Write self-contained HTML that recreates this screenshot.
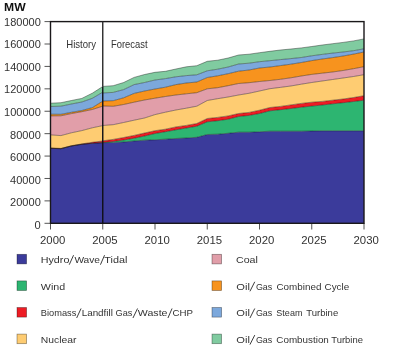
<!DOCTYPE html>
<html><head><meta charset="utf-8"><style>
html,body{margin:0;padding:0;background:#fff;width:400px;height:352px;overflow:hidden}
svg{display:block;will-change:transform}
text{font-family:"Liberation Sans",sans-serif;fill:#333}
.ax{font-size:10.5px}
.lg{font-size:9.8px}
.t{font-size:10.2px}
.mw{font-size:11px;font-weight:bold;fill:#111}
</style></head><body>
<svg width="400" height="352" viewBox="0 0 400 352">
<text x="4.0" y="10.9" class="mw" textLength="21.6" lengthAdjust="spacingAndGlyphs">MW</text>
<path d="M50.50,148.30 L60.95,148.70 L71.40,146.00 L81.85,144.30 L92.30,143.30 L102.75,142.80 L102.75,223.30 L92.30,223.30 L81.85,223.30 L71.40,223.30 L60.95,223.30 L50.50,223.30 Z" fill="#3b3b9b"/>
<path d="M50.50,148.30 L60.95,148.70 L71.40,146.00 L81.85,144.30 L92.30,143.20 L102.75,142.50 L102.75,142.80 L92.30,143.30 L81.85,144.30 L71.40,146.00 L60.95,148.70 L50.50,148.30 Z" fill="#2db571"/>
<path d="M50.50,148.00 L60.95,148.40 L71.40,145.70 L81.85,143.90 L92.30,142.30 L102.75,141.00 L102.75,142.50 L92.30,143.20 L81.85,144.30 L71.40,146.00 L60.95,148.70 L50.50,148.30 Z" fill="#ed1c24"/>
<path d="M50.50,134.90 L60.95,135.60 L71.40,132.80 L81.85,130.60 L92.30,127.80 L102.75,125.60 L102.75,141.00 L92.30,142.30 L81.85,143.90 L71.40,145.70 L60.95,148.40 L50.50,148.00 Z" fill="#fecc72"/>
<path d="M50.50,115.90 L60.95,115.80 L71.40,113.60 L81.85,111.70 L92.30,109.50 L102.75,106.20 L102.75,125.60 L92.30,127.80 L81.85,130.60 L71.40,132.80 L60.95,135.60 L50.50,134.90 Z" fill="#e19ea9"/>
<path d="M50.50,114.20 L60.95,114.30 L71.40,112.30 L81.85,110.50 L92.30,107.60 L102.75,101.10 L102.75,106.20 L92.30,109.50 L81.85,111.70 L71.40,113.60 L60.95,115.80 L50.50,115.90 Z" fill="#f7931e"/>
<path d="M50.50,106.50 L60.95,106.20 L71.40,104.00 L81.85,102.00 L92.30,98.30 L102.75,92.20 L102.75,101.10 L92.30,107.60 L81.85,110.50 L71.40,112.30 L60.95,114.30 L50.50,114.20 Z" fill="#7ca8dc"/>
<path d="M50.50,103.20 L60.95,102.70 L71.40,100.50 L81.85,98.40 L92.30,93.20 L102.75,86.50 L102.75,92.20 L92.30,98.30 L81.85,102.00 L71.40,104.00 L60.95,106.20 L50.50,106.50 Z" fill="#80cba0"/>
<path d="M50.50,148.30 L60.95,148.70 L71.40,146.00 L81.85,144.30 L92.30,143.30 L102.75,142.80" fill="none" stroke="#000" stroke-opacity="0.55" stroke-width="0.7"/>
<path d="M50.50,148.30 L60.95,148.70 L71.40,146.00 L81.85,144.30 L92.30,143.20 L102.75,142.50" fill="none" stroke="#000" stroke-opacity="0.55" stroke-width="0.7"/>
<path d="M50.50,148.00 L60.95,148.40 L71.40,145.70 L81.85,143.90 L92.30,142.30 L102.75,141.00" fill="none" stroke="#000" stroke-opacity="0.55" stroke-width="0.7"/>
<path d="M50.50,134.90 L60.95,135.60 L71.40,132.80 L81.85,130.60 L92.30,127.80 L102.75,125.60" fill="none" stroke="#000" stroke-opacity="0.55" stroke-width="0.7"/>
<path d="M50.50,115.90 L60.95,115.80 L71.40,113.60 L81.85,111.70 L92.30,109.50 L102.75,106.20" fill="none" stroke="#000" stroke-opacity="0.55" stroke-width="0.7"/>
<path d="M50.50,114.20 L60.95,114.30 L71.40,112.30 L81.85,110.50 L92.30,107.60 L102.75,101.10" fill="none" stroke="#000" stroke-opacity="0.55" stroke-width="0.7"/>
<path d="M50.50,106.50 L60.95,106.20 L71.40,104.00 L81.85,102.00 L92.30,98.30 L102.75,92.20" fill="none" stroke="#000" stroke-opacity="0.55" stroke-width="0.7"/>
<path d="M50.50,103.20 L60.95,102.70 L71.40,100.50 L81.85,98.40 L92.30,93.20 L102.75,86.50" fill="none" stroke="#000" stroke-opacity="0.55" stroke-width="0.7"/>
<path d="M102.75,142.70 L113.20,142.40 L123.65,142.00 L134.10,141.00 L144.55,140.20 L155.00,139.80 L165.45,139.20 L175.90,138.50 L186.35,138.00 L196.80,137.30 L207.25,134.50 L217.70,134.20 L228.15,133.30 L238.60,132.20 L249.05,132.20 L259.50,131.80 L269.95,131.20 L280.40,131.20 L290.85,131.20 L301.30,131.20 L311.75,131.00 L322.20,130.80 L332.65,130.80 L343.10,130.80 L353.55,130.80 L364.00,130.80 L364.00,223.30 L353.55,223.30 L343.10,223.30 L332.65,223.30 L322.20,223.30 L311.75,223.30 L301.30,223.30 L290.85,223.30 L280.40,223.30 L269.95,223.30 L259.50,223.30 L249.05,223.30 L238.60,223.30 L228.15,223.30 L217.70,223.30 L207.25,223.30 L196.80,223.30 L186.35,223.30 L175.90,223.30 L165.45,223.30 L155.00,223.30 L144.55,223.30 L134.10,223.30 L123.65,223.30 L113.20,223.30 L102.75,223.30 Z" fill="#3b3b9b"/>
<path d="M102.75,142.40 L113.20,141.50 L123.65,140.00 L134.10,138.20 L144.55,136.00 L155.00,133.50 L165.45,131.70 L175.90,129.80 L186.35,128.00 L196.80,126.20 L207.25,121.80 L217.70,120.70 L228.15,119.20 L238.60,116.50 L249.05,115.40 L259.50,113.50 L269.95,110.80 L280.40,109.70 L290.85,108.50 L301.30,107.20 L311.75,106.10 L322.20,105.00 L332.65,103.80 L343.10,102.70 L353.55,101.50 L364.00,100.20 L364.00,130.80 L353.55,130.80 L343.10,130.80 L332.65,130.80 L322.20,130.80 L311.75,131.00 L301.30,131.20 L290.85,131.20 L280.40,131.20 L269.95,131.20 L259.50,131.80 L249.05,132.20 L238.60,132.20 L228.15,133.30 L217.70,134.20 L207.25,134.50 L196.80,137.30 L186.35,138.00 L175.90,138.50 L165.45,139.20 L155.00,139.80 L144.55,140.20 L134.10,141.00 L123.65,142.00 L113.20,142.40 L102.75,142.70 Z" fill="#2db571"/>
<path d="M102.75,140.80 L113.20,139.40 L123.65,137.50 L134.10,135.40 L144.55,133.00 L155.00,130.70 L165.45,129.20 L175.90,126.90 L186.35,125.40 L196.80,123.50 L207.25,118.50 L217.70,117.40 L228.15,115.90 L238.60,113.50 L249.05,112.40 L259.50,110.20 L269.95,107.50 L280.40,106.40 L290.85,104.90 L301.30,103.40 L311.75,102.20 L322.20,101.40 L332.65,100.20 L343.10,99.00 L353.55,97.50 L364.00,95.70 L364.00,100.20 L353.55,101.50 L343.10,102.70 L332.65,103.80 L322.20,105.00 L311.75,106.10 L301.30,107.20 L290.85,108.50 L280.40,109.70 L269.95,110.80 L259.50,113.50 L249.05,115.40 L238.60,116.50 L228.15,119.20 L217.70,120.70 L207.25,121.80 L196.80,126.20 L186.35,128.00 L175.90,129.80 L165.45,131.70 L155.00,133.50 L144.55,136.00 L134.10,138.20 L123.65,140.00 L113.20,141.50 L102.75,142.40 Z" fill="#ed1c24"/>
<path d="M102.75,125.50 L113.20,124.70 L123.65,122.50 L134.10,120.20 L144.55,118.00 L155.00,114.60 L165.45,112.20 L175.90,110.00 L186.35,108.20 L196.80,106.20 L207.25,100.50 L217.70,98.70 L228.15,97.00 L238.60,95.00 L249.05,93.30 L259.50,91.00 L269.95,88.70 L280.40,87.40 L290.85,86.00 L301.30,84.20 L311.75,82.50 L322.20,81.00 L332.65,79.50 L343.10,78.00 L353.55,76.50 L364.00,74.70 L364.00,95.70 L353.55,97.50 L343.10,99.00 L332.65,100.20 L322.20,101.40 L311.75,102.20 L301.30,103.40 L290.85,104.90 L280.40,106.40 L269.95,107.50 L259.50,110.20 L249.05,112.40 L238.60,113.50 L228.15,115.90 L217.70,117.40 L207.25,118.50 L196.80,123.50 L186.35,125.40 L175.90,126.90 L165.45,129.20 L155.00,130.70 L144.55,133.00 L134.10,135.40 L123.65,137.50 L113.20,139.40 L102.75,140.80 Z" fill="#fecc72"/>
<path d="M102.75,106.00 L113.20,106.30 L123.65,104.50 L134.10,102.20 L144.55,100.00 L155.00,98.20 L165.45,96.50 L175.90,95.00 L186.35,93.80 L196.80,92.70 L207.25,88.80 L217.70,87.70 L228.15,85.70 L238.60,83.50 L249.05,82.70 L259.50,81.50 L269.95,80.50 L280.40,79.30 L290.85,77.80 L301.30,76.00 L311.75,74.40 L322.20,73.20 L332.65,72.00 L343.10,70.50 L353.55,68.70 L364.00,66.70 L364.00,74.70 L353.55,76.50 L343.10,78.00 L332.65,79.50 L322.20,81.00 L311.75,82.50 L301.30,84.20 L290.85,86.00 L280.40,87.40 L269.95,88.70 L259.50,91.00 L249.05,93.30 L238.60,95.00 L228.15,97.00 L217.70,98.70 L207.25,100.50 L196.80,106.20 L186.35,108.20 L175.90,110.00 L165.45,112.20 L155.00,114.60 L144.55,118.00 L134.10,120.20 L123.65,122.50 L113.20,124.70 L102.75,125.50 Z" fill="#e19ea9"/>
<path d="M102.75,101.00 L113.20,100.70 L123.65,97.80 L134.10,93.40 L144.55,91.00 L155.00,89.00 L165.45,87.20 L175.90,84.60 L186.35,83.00 L196.80,82.00 L207.25,77.50 L217.70,75.80 L228.15,73.70 L238.60,71.20 L249.05,70.00 L259.50,68.00 L269.95,67.00 L280.40,65.60 L290.85,64.20 L301.30,62.50 L311.75,60.60 L322.20,59.00 L332.65,57.60 L343.10,56.00 L353.55,54.10 L364.00,52.00 L364.00,66.70 L353.55,68.70 L343.10,70.50 L332.65,72.00 L322.20,73.20 L311.75,74.40 L301.30,76.00 L290.85,77.80 L280.40,79.30 L269.95,80.50 L259.50,81.50 L249.05,82.70 L238.60,83.50 L228.15,85.70 L217.70,87.70 L207.25,88.80 L196.80,92.70 L186.35,93.80 L175.90,95.00 L165.45,96.50 L155.00,98.20 L144.55,100.00 L134.10,102.20 L123.65,104.50 L113.20,106.30 L102.75,106.00 Z" fill="#f7931e"/>
<path d="M102.75,93.00 L113.20,92.40 L123.65,89.60 L134.10,84.60 L144.55,82.50 L155.00,80.00 L165.45,78.60 L175.90,76.80 L186.35,75.60 L196.80,74.80 L207.25,70.80 L217.70,69.20 L228.15,67.00 L238.60,64.00 L249.05,63.20 L259.50,61.70 L269.95,60.70 L280.40,59.60 L290.85,58.60 L301.30,57.50 L311.75,55.80 L322.20,54.40 L332.65,53.10 L343.10,52.00 L353.55,50.70 L364.00,48.80 L364.00,52.00 L353.55,54.10 L343.10,56.00 L332.65,57.60 L322.20,59.00 L311.75,60.60 L301.30,62.50 L290.85,64.20 L280.40,65.60 L269.95,67.00 L259.50,68.00 L249.05,70.00 L238.60,71.20 L228.15,73.70 L217.70,75.80 L207.25,77.50 L196.80,82.00 L186.35,83.00 L175.90,84.60 L165.45,87.20 L155.00,89.00 L144.55,91.00 L134.10,93.40 L123.65,97.80 L113.20,100.70 L102.75,101.00 Z" fill="#7ca8dc"/>
<path d="M102.75,86.40 L113.20,85.70 L123.65,82.50 L134.10,77.40 L144.55,74.50 L155.00,72.30 L165.45,71.30 L175.90,69.00 L186.35,66.80 L196.80,65.70 L207.25,61.30 L217.70,60.20 L228.15,58.00 L238.60,55.00 L249.05,54.20 L259.50,52.70 L269.95,51.30 L280.40,50.00 L290.85,49.00 L301.30,47.90 L311.75,46.50 L322.20,45.00 L332.65,43.70 L343.10,42.40 L353.55,40.90 L364.00,38.90 L364.00,48.80 L353.55,50.70 L343.10,52.00 L332.65,53.10 L322.20,54.40 L311.75,55.80 L301.30,57.50 L290.85,58.60 L280.40,59.60 L269.95,60.70 L259.50,61.70 L249.05,63.20 L238.60,64.00 L228.15,67.00 L217.70,69.20 L207.25,70.80 L196.80,74.80 L186.35,75.60 L175.90,76.80 L165.45,78.60 L155.00,80.00 L144.55,82.50 L134.10,84.60 L123.65,89.60 L113.20,92.40 L102.75,93.00 Z" fill="#80cba0"/>
<path d="M102.75,142.70 L113.20,142.40 L123.65,142.00 L134.10,141.00 L144.55,140.20 L155.00,139.80 L165.45,139.20 L175.90,138.50 L186.35,138.00 L196.80,137.30 L207.25,134.50 L217.70,134.20 L228.15,133.30 L238.60,132.20 L249.05,132.20 L259.50,131.80 L269.95,131.20 L280.40,131.20 L290.85,131.20 L301.30,131.20 L311.75,131.00 L322.20,130.80 L332.65,130.80 L343.10,130.80 L353.55,130.80 L364.00,130.80" fill="none" stroke="#000" stroke-opacity="0.55" stroke-width="0.7"/>
<path d="M102.75,142.40 L113.20,141.50 L123.65,140.00 L134.10,138.20 L144.55,136.00 L155.00,133.50 L165.45,131.70 L175.90,129.80 L186.35,128.00 L196.80,126.20 L207.25,121.80 L217.70,120.70 L228.15,119.20 L238.60,116.50 L249.05,115.40 L259.50,113.50 L269.95,110.80 L280.40,109.70 L290.85,108.50 L301.30,107.20 L311.75,106.10 L322.20,105.00 L332.65,103.80 L343.10,102.70 L353.55,101.50 L364.00,100.20" fill="none" stroke="#000" stroke-opacity="0.55" stroke-width="0.7"/>
<path d="M102.75,140.80 L113.20,139.40 L123.65,137.50 L134.10,135.40 L144.55,133.00 L155.00,130.70 L165.45,129.20 L175.90,126.90 L186.35,125.40 L196.80,123.50 L207.25,118.50 L217.70,117.40 L228.15,115.90 L238.60,113.50 L249.05,112.40 L259.50,110.20 L269.95,107.50 L280.40,106.40 L290.85,104.90 L301.30,103.40 L311.75,102.20 L322.20,101.40 L332.65,100.20 L343.10,99.00 L353.55,97.50 L364.00,95.70" fill="none" stroke="#000" stroke-opacity="0.55" stroke-width="0.7"/>
<path d="M102.75,125.50 L113.20,124.70 L123.65,122.50 L134.10,120.20 L144.55,118.00 L155.00,114.60 L165.45,112.20 L175.90,110.00 L186.35,108.20 L196.80,106.20 L207.25,100.50 L217.70,98.70 L228.15,97.00 L238.60,95.00 L249.05,93.30 L259.50,91.00 L269.95,88.70 L280.40,87.40 L290.85,86.00 L301.30,84.20 L311.75,82.50 L322.20,81.00 L332.65,79.50 L343.10,78.00 L353.55,76.50 L364.00,74.70" fill="none" stroke="#000" stroke-opacity="0.55" stroke-width="0.7"/>
<path d="M102.75,106.00 L113.20,106.30 L123.65,104.50 L134.10,102.20 L144.55,100.00 L155.00,98.20 L165.45,96.50 L175.90,95.00 L186.35,93.80 L196.80,92.70 L207.25,88.80 L217.70,87.70 L228.15,85.70 L238.60,83.50 L249.05,82.70 L259.50,81.50 L269.95,80.50 L280.40,79.30 L290.85,77.80 L301.30,76.00 L311.75,74.40 L322.20,73.20 L332.65,72.00 L343.10,70.50 L353.55,68.70 L364.00,66.70" fill="none" stroke="#000" stroke-opacity="0.55" stroke-width="0.7"/>
<path d="M102.75,101.00 L113.20,100.70 L123.65,97.80 L134.10,93.40 L144.55,91.00 L155.00,89.00 L165.45,87.20 L175.90,84.60 L186.35,83.00 L196.80,82.00 L207.25,77.50 L217.70,75.80 L228.15,73.70 L238.60,71.20 L249.05,70.00 L259.50,68.00 L269.95,67.00 L280.40,65.60 L290.85,64.20 L301.30,62.50 L311.75,60.60 L322.20,59.00 L332.65,57.60 L343.10,56.00 L353.55,54.10 L364.00,52.00" fill="none" stroke="#000" stroke-opacity="0.55" stroke-width="0.7"/>
<path d="M102.75,93.00 L113.20,92.40 L123.65,89.60 L134.10,84.60 L144.55,82.50 L155.00,80.00 L165.45,78.60 L175.90,76.80 L186.35,75.60 L196.80,74.80 L207.25,70.80 L217.70,69.20 L228.15,67.00 L238.60,64.00 L249.05,63.20 L259.50,61.70 L269.95,60.70 L280.40,59.60 L290.85,58.60 L301.30,57.50 L311.75,55.80 L322.20,54.40 L332.65,53.10 L343.10,52.00 L353.55,50.70 L364.00,48.80" fill="none" stroke="#000" stroke-opacity="0.55" stroke-width="0.7"/>
<path d="M102.75,86.40 L113.20,85.70 L123.65,82.50 L134.10,77.40 L144.55,74.50 L155.00,72.30 L165.45,71.30 L175.90,69.00 L186.35,66.80 L196.80,65.70 L207.25,61.30 L217.70,60.20 L228.15,58.00 L238.60,55.00 L249.05,54.20 L259.50,52.70 L269.95,51.30 L280.40,50.00 L290.85,49.00 L301.30,47.90 L311.75,46.50 L322.20,45.00 L332.65,43.70 L343.10,42.40 L353.55,40.90 L364.00,38.90" fill="none" stroke="#000" stroke-opacity="0.55" stroke-width="0.7"/>
<line x1="44.5" y1="223.30" x2="50.5" y2="223.30" stroke="#555" stroke-width="1"/>
<text x="40.8" y="228.60" text-anchor="end" class="ax" textLength="6.20" lengthAdjust="spacingAndGlyphs">0</text>
<line x1="44.5" y1="200.89" x2="50.5" y2="200.89" stroke="#555" stroke-width="1"/>
<text x="40.8" y="206.08" text-anchor="end" class="ax" textLength="30.70" lengthAdjust="spacingAndGlyphs">20000</text>
<line x1="44.5" y1="178.48" x2="50.5" y2="178.48" stroke="#555" stroke-width="1"/>
<text x="40.8" y="183.56" text-anchor="end" class="ax" textLength="30.70" lengthAdjust="spacingAndGlyphs">40000</text>
<line x1="44.5" y1="156.07" x2="50.5" y2="156.07" stroke="#555" stroke-width="1"/>
<text x="40.8" y="161.03" text-anchor="end" class="ax" textLength="30.70" lengthAdjust="spacingAndGlyphs">60000</text>
<line x1="44.5" y1="133.66" x2="50.5" y2="133.66" stroke="#555" stroke-width="1"/>
<text x="40.8" y="138.51" text-anchor="end" class="ax" textLength="30.70" lengthAdjust="spacingAndGlyphs">80000</text>
<line x1="44.5" y1="111.24" x2="50.5" y2="111.24" stroke="#555" stroke-width="1"/>
<text x="40.8" y="115.99" text-anchor="end" class="ax" textLength="36.80" lengthAdjust="spacingAndGlyphs">100000</text>
<line x1="44.5" y1="88.83" x2="50.5" y2="88.83" stroke="#555" stroke-width="1"/>
<text x="40.8" y="93.47" text-anchor="end" class="ax" textLength="36.80" lengthAdjust="spacingAndGlyphs">120000</text>
<line x1="44.5" y1="66.42" x2="50.5" y2="66.42" stroke="#555" stroke-width="1"/>
<text x="40.8" y="70.94" text-anchor="end" class="ax" textLength="36.80" lengthAdjust="spacingAndGlyphs">140000</text>
<line x1="44.5" y1="44.01" x2="50.5" y2="44.01" stroke="#555" stroke-width="1"/>
<text x="40.8" y="48.42" text-anchor="end" class="ax" textLength="36.80" lengthAdjust="spacingAndGlyphs">160000</text>
<line x1="44.5" y1="21.60" x2="50.5" y2="21.60" stroke="#555" stroke-width="1"/>
<text x="40.8" y="25.90" text-anchor="end" class="ax" textLength="36.80" lengthAdjust="spacingAndGlyphs">180000</text>
<line x1="50.50" y1="223.30" x2="50.50" y2="229.5" stroke="#555" stroke-width="1"/>
<text x="52.70" y="243.6" text-anchor="middle" class="ax" textLength="25.3" lengthAdjust="spacingAndGlyphs">2000</text>
<line x1="102.75" y1="223.30" x2="102.75" y2="229.5" stroke="#555" stroke-width="1"/>
<text x="104.95" y="243.6" text-anchor="middle" class="ax" textLength="25.3" lengthAdjust="spacingAndGlyphs">2005</text>
<line x1="155.00" y1="223.30" x2="155.00" y2="229.5" stroke="#555" stroke-width="1"/>
<text x="157.20" y="243.6" text-anchor="middle" class="ax" textLength="25.3" lengthAdjust="spacingAndGlyphs">2010</text>
<line x1="207.25" y1="223.30" x2="207.25" y2="229.5" stroke="#555" stroke-width="1"/>
<text x="209.45" y="243.6" text-anchor="middle" class="ax" textLength="25.3" lengthAdjust="spacingAndGlyphs">2015</text>
<line x1="259.50" y1="223.30" x2="259.50" y2="229.5" stroke="#555" stroke-width="1"/>
<text x="261.70" y="243.6" text-anchor="middle" class="ax" textLength="25.3" lengthAdjust="spacingAndGlyphs">2020</text>
<line x1="311.75" y1="223.30" x2="311.75" y2="229.5" stroke="#555" stroke-width="1"/>
<text x="313.95" y="243.6" text-anchor="middle" class="ax" textLength="25.3" lengthAdjust="spacingAndGlyphs">2025</text>
<line x1="364.00" y1="223.30" x2="364.00" y2="229.5" stroke="#555" stroke-width="1"/>
<text x="366.20" y="243.6" text-anchor="middle" class="ax" textLength="25.3" lengthAdjust="spacingAndGlyphs">2030</text>
<rect x="50.50" y="21.60" width="313.50" height="201.70" fill="none" stroke="#1a181a" stroke-width="1.4"/>
<line x1="102.75" y1="21.60" x2="102.75" y2="86.5" stroke="#2a2a2a" stroke-width="1.4"/>
<line x1="102.75" y1="86.5" x2="102.75" y2="223.30" stroke="#0e0e14" stroke-width="1.4"/>
<rect x="17.00" y="254.30" width="9.6" height="9.6" fill="#3b3b9b" stroke="#000" stroke-opacity="0.45" stroke-width="0.7"/>
<text x="40.74" y="263.10" class="lg" textLength="28.66" lengthAdjust="spacingAndGlyphs">Hydro</text>
<line x1="69.25" y1="264.70" x2="73.55" y2="255.20" stroke="#333" stroke-width="0.95"/>
<text x="74.40" y="263.10" class="lg" textLength="25.60" lengthAdjust="spacingAndGlyphs">Wave</text>
<line x1="100.45" y1="264.70" x2="104.55" y2="255.20" stroke="#333" stroke-width="0.95"/>
<text x="104.28" y="263.10" class="lg" textLength="23.08" lengthAdjust="spacingAndGlyphs">Tidal</text>
<rect x="17.00" y="280.90" width="9.6" height="9.6" fill="#2db571" stroke="#000" stroke-opacity="0.45" stroke-width="0.7"/>
<text x="40.89" y="289.70" class="lg" textLength="24.34" lengthAdjust="spacingAndGlyphs">Wind</text>
<rect x="17.00" y="307.50" width="9.6" height="9.6" fill="#ed1c24" stroke="#000" stroke-opacity="0.45" stroke-width="0.7"/>
<text x="40.86" y="316.40" class="lg" textLength="35.46" lengthAdjust="spacingAndGlyphs">Biomass</text>
<line x1="76.65" y1="318.00" x2="81.05" y2="308.50" stroke="#333" stroke-width="0.95"/>
<text x="81.71" y="316.40" class="lg" textLength="31.17" lengthAdjust="spacingAndGlyphs">Landfill</text>
<text x="115.54" y="316.40" class="lg" textLength="16.77" lengthAdjust="spacingAndGlyphs">Gas</text>
<line x1="132.95" y1="318.00" x2="137.55" y2="308.50" stroke="#333" stroke-width="0.95"/>
<text x="137.89" y="316.40" class="lg" textLength="29.60" lengthAdjust="spacingAndGlyphs">Waste</text>
<line x1="167.95" y1="318.00" x2="172.05" y2="308.50" stroke="#333" stroke-width="0.95"/>
<text x="172.51" y="316.40" class="lg" textLength="20.48" lengthAdjust="spacingAndGlyphs">CHP</text>
<rect x="17.00" y="334.10" width="9.6" height="9.6" fill="#fecc72" stroke="#000" stroke-opacity="0.45" stroke-width="0.7"/>
<text x="40.77" y="343.00" class="lg" textLength="35.64" lengthAdjust="spacingAndGlyphs">Nuclear</text>
<rect x="212.00" y="254.30" width="9.6" height="9.6" fill="#e19ea9" stroke="#000" stroke-opacity="0.45" stroke-width="0.7"/>
<text x="235.97" y="263.10" class="lg" textLength="21.95" lengthAdjust="spacingAndGlyphs">Coal</text>
<rect x="212.00" y="280.90" width="9.6" height="9.6" fill="#f7931e" stroke="#000" stroke-opacity="0.45" stroke-width="0.7"/>
<text x="236.34" y="289.70" class="lg" textLength="13.65" lengthAdjust="spacingAndGlyphs">Oil</text>
<line x1="249.95" y1="291.30" x2="254.75" y2="281.80" stroke="#333" stroke-width="0.95"/>
<text x="255.95" y="289.70" class="lg" textLength="16.35" lengthAdjust="spacingAndGlyphs">Gas</text>
<text x="276.51" y="289.70" class="lg" textLength="44.97" lengthAdjust="spacingAndGlyphs">Combined</text>
<text x="324.51" y="289.70" class="lg" textLength="24.69" lengthAdjust="spacingAndGlyphs">Cycle</text>
<rect x="212.00" y="307.50" width="9.6" height="9.6" fill="#7ca8dc" stroke="#000" stroke-opacity="0.45" stroke-width="0.7"/>
<text x="236.34" y="316.40" class="lg" textLength="13.65" lengthAdjust="spacingAndGlyphs">Oil</text>
<line x1="249.95" y1="318.00" x2="254.75" y2="308.50" stroke="#333" stroke-width="0.95"/>
<text x="255.95" y="316.40" class="lg" textLength="16.35" lengthAdjust="spacingAndGlyphs">Gas</text>
<text x="276.35" y="316.40" class="lg" textLength="26.08" lengthAdjust="spacingAndGlyphs">Steam</text>
<text x="306.31" y="316.40" class="lg" textLength="31.91" lengthAdjust="spacingAndGlyphs">Turbine</text>
<rect x="212.00" y="334.10" width="9.6" height="9.6" fill="#80cba0" stroke="#000" stroke-opacity="0.45" stroke-width="0.7"/>
<text x="236.34" y="343.00" class="lg" textLength="13.65" lengthAdjust="spacingAndGlyphs">Oil</text>
<line x1="249.95" y1="344.60" x2="254.75" y2="335.10" stroke="#333" stroke-width="0.95"/>
<text x="255.95" y="343.00" class="lg" textLength="16.35" lengthAdjust="spacingAndGlyphs">Gas</text>
<text x="276.31" y="343.00" class="lg" textLength="52.54" lengthAdjust="spacingAndGlyphs">Combustion</text>
<text x="331.31" y="343.00" class="lg" textLength="31.60" lengthAdjust="spacingAndGlyphs">Turbine</text>
<text x="66.23" y="48.40" class="t" textLength="29.78" lengthAdjust="spacingAndGlyphs">History</text>
<text x="111.00" y="48.20" class="t" textLength="36.60" lengthAdjust="spacingAndGlyphs">Forecast</text>
</svg>
</body></html>
